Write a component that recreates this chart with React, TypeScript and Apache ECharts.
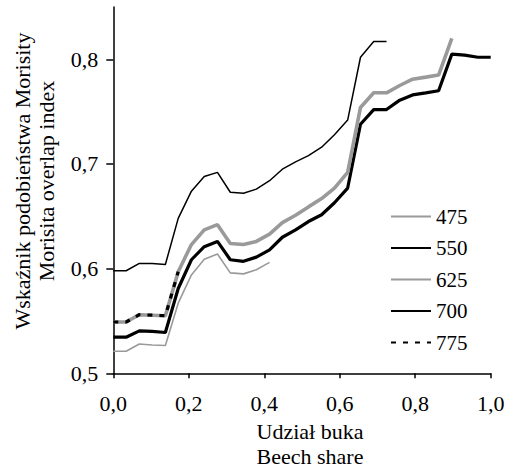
import React, { useEffect, useRef } from "react";
import * as echarts from "echarts";

// beech share (x) positions of the measurement points
const xs = [
  0, 0.034, 0.069, 0.103, 0.138, 0.172, 0.207, 0.241, 0.276, 0.31,
  0.345, 0.379, 0.414, 0.448, 0.483, 0.517, 0.552, 0.586, 0.621, 0.655,
  0.69, 0.724, 0.759, 0.793, 0.828, 0.862, 0.897, 0.931, 0.966, 1.0,
];

const s475 = [0.521, 0.521, 0.528, 0.527, 0.5265, 0.567, 0.594, 0.609, 0.614, 0.596, 0.595, 0.599, 0.606];
const s550 = [
  0.5345, 0.5345, 0.5405, 0.54, 0.539, 0.581, 0.6085, 0.621, 0.626, 0.6085,
  0.607, 0.611, 0.618, 0.63, 0.637, 0.645, 0.6515, 0.663, 0.677, 0.738,
  0.752, 0.752, 0.761, 0.766, 0.768, 0.77, 0.805, 0.804, 0.802, 0.802,
];
const s625 = [
  0.549, 0.549, 0.556, 0.5555, 0.555, 0.597, 0.623, 0.637, 0.642, 0.624,
  0.623, 0.626, 0.633, 0.644, 0.651, 0.659, 0.667, 0.677, 0.692, 0.754,
  0.768, 0.768, 0.775, 0.781, 0.783, 0.785, 0.82,
];
const s700 = [
  0.598, 0.598, 0.605, 0.605, 0.604, 0.648, 0.674, 0.688, 0.692, 0.673,
  0.672, 0.676, 0.684, 0.695, 0.702, 0.708, 0.716, 0.728, 0.742, 0.802,
  0.817, 0.817,
];
const s775 = [0.549, 0.549, 0.556, 0.5555, 0.555, 0.597];

const seriesNames = ["475", "550", "625", "700", "775"];
const xTicks = [0, 0.2, 0.4, 0.6, 0.8, 1.0];
const yTicks = [0.5, 0.6, 0.7, 0.8];

const FONT = "Liberation Serif";

const pairs = (vals: number[]) => vals.map((v, i) => [xs[i], v]);

export default function App() {
  const ref = useRef<HTMLDivElement>(null);
  useEffect(() => {
    if (!ref.current) return;
    const chart = echarts.init(ref.current, undefined, { renderer: "svg" });
    const fmt = (v: number) => v.toFixed(1).replace(".", ",");
    const styles = [
      { color: "#9a9a9a", width: 1.6, type: "solid" },
      { color: "#000000", width: 3.2, type: "solid" },
      { color: "#9a9a9a", width: 3.6, type: "solid" },
      { color: "#000000", width: 1.5, type: "solid" },
      { color: "#000000", width: 3.2, type: [5, 7] },
    ];
    const datas = [s475, s550, s625, s700, s775];
    chart.setOption({
      animation: false,
      backgroundColor: "#ffffff",
      textStyle: { fontFamily: FONT },
      grid: { left: 113.3, right: 14.3, top: 7, bottom: 97.7, outerBoundsMode: "none" },
      legend: {
        orient: "vertical",
        left: 385,
        top: 201,
        itemWidth: 40,
        itemHeight: 21,
        itemGap: 10.5,
        data: seriesNames,
        itemStyle: { opacity: 0 },
        textStyle: { fontFamily: FONT, fontSize: 21, color: "#000" },
      },
      graphic: [
        {
          type: "text",
          x: 34,
          y: 181,
          rotation: Math.PI / 2,
          style: {
            text: "Wskaźnik podobieństwa Morisity\nMorisita overlap index",
            fontFamily: FONT,
            fontSize: 22,
            fill: "#000",
            align: "center",
            verticalAlign: "middle",
            lineHeight: 24,
          },
        },
      ],
      xAxis: {
        type: "value",
        min: 0,
        max: 1,
        interval: 0.2,
        name: "Udział buka\nBeech share",
        nameLocation: "middle",
        nameGap: 45,
        nameTextStyle: { fontFamily: FONT, fontSize: 22, color: "#000", lineHeight: 25, padding: [0, 0, 0, 16] },
        axisLine: { lineStyle: { color: "#000", width: 1.5 } },
        axisTick: { show: true, length: 5, lineStyle: { color: "#000", width: 1.5 }, customValues: xTicks },
        axisLabel: { fontFamily: FONT, fontSize: 22, color: "#000", margin: 19, formatter: fmt, customValues: xTicks },
        splitLine: { show: false },
      },
      yAxis: {
        type: "value",
        min: 0.5,
        max: 0.85,
        interval: 0.1,
        axisLine: { show: true, lineStyle: { color: "#000", width: 1.5 } },
        axisTick: { show: true, length: 7, lineStyle: { color: "#000", width: 1.5 }, customValues: yTicks },
        axisLabel: { fontFamily: FONT, fontSize: 22, color: "#000", margin: 15, formatter: fmt, customValues: yTicks },
        splitLine: { show: false },
      },
      series: seriesNames.map((name, i) => ({
        name,
        type: "line",
        data: pairs(datas[i]),
        symbol: "none",
        z: i === 4 ? 5 : 2,
        lineStyle: styles[i],
        itemStyle: { color: styles[i].color },
      })),
    });
    return () => chart.dispose();
  }, []);
  return <div ref={ref} style={{ position: "fixed", left: 0, top: 0, width: 505, height: 471 }} />;
}
